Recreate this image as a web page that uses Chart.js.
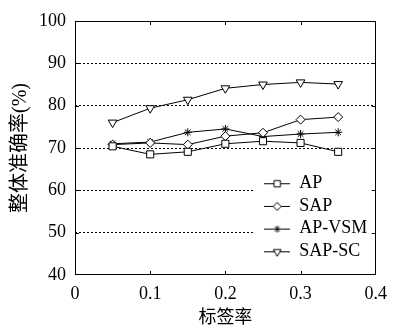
<!DOCTYPE html>
<html>
<head>
<meta charset="utf-8">
<script src="https://cdn.jsdelivr.net/npm/chart.js@4.4.0/dist/chart.umd.min.js"></script>
<style>
  html, body { margin: 0; padding: 0; background: #fff; }
</style>
</head>
<body>
<canvas id="c" width="395" height="329"></canvas>
<script>
// 标签率 (x) and accuracy values
const RATES = [0.05, 0.1, 0.15, 0.2, 0.25, 0.3, 0.35];
const AP = [70.4, 68.5, 69.1, 71.0, 71.6, 71.2, 69.1];
const SAP = [70.8, 71.2, 70.8, 72.8, 73.6, 76.7, 77.3];
const AP_VSM = [71.0, 71.4, 73.7, 74.5, 72.7, 73.3, 73.7];
const SAP_SC = [76.0, 79.4, 81.4, 84.1, 85.0, 85.5, 85.1];
const NAMES = ["AP", "SAP", "AP-VSM", "SAP-SC"];
const Y_MIN = 40, Y_MAX = 100, Y_STEP = 10;
const X_MIN = 0, X_MAX = 0.4, X_STEP = 0.1;

const SERIF = "'Liberation Serif', 'DejaVu Serif', 'Noto Sans CJK SC', serif";

const toXY = (vals) => vals.map((v, i) => ({ x: RATES[i], y: v }));

const styles = [
  { pointStyle: "rect", radius: 5, rotation: 0 },
  { pointStyle: "rectRot", radius: 4.5, rotation: 0 },
  { pointStyle: "star", radius: 4, rotation: 0 },
  { pointStyle: "triangle", radius: 5, rotation: 180 },
];

const datasets = [AP, SAP, AP_VSM, SAP_SC].map((vals, i) => ({
  label: NAMES[i],
  data: toXY(vals),
  borderColor: "#000",
  borderWidth: 1,
  backgroundColor: "#fff",
  pointStyle: styles[i].pointStyle,
  pointRadius: styles[i].radius,
  pointRotation: styles[i].rotation,
  pointBorderColor: "#000",
  pointBackgroundColor: "#fff",
  pointBorderWidth: 1,
  tension: 0,
}));

// small line + marker icon for the legend
function legendIcon(i) {
  const cv = document.createElement("canvas");
  cv.width = 26;
  cv.height = 14;
  const c = cv.getContext("2d");
  c.strokeStyle = "#000";
  c.fillStyle = "#fff";
  c.lineWidth = 1;
  c.beginPath();
  c.moveTo(0, 7.5);
  c.lineTo(26, 7.5);
  c.stroke();
  if (Chart.helpers && Chart.helpers.drawPoint) {
    Chart.helpers.drawPoint(c, {
      pointStyle: styles[i].pointStyle,
      radius: styles[i].radius - 0.5,
      rotation: styles[i].rotation,
      borderWidth: 1,
    }, 13, 7.5);
  }
  return cv;
}

// frame, inward ticks, and white box behind the legend
const framePlugin = {
  id: "frame",
  afterLayout(chart) {
    const lg = chart.legend;
    if (!lg) return;
    lg.left = 259.5;
    lg.top = 169.5;
    lg.right = lg.left + lg.width;
    lg.bottom = chart.chartArea.bottom + 20;
    if (!lg._wrapped) {
      const orig = lg.draw;
      lg.draw = function () {
        const ctx = chart.ctx;
        const area = chart.chartArea;
        ctx.save();
        ctx.fillStyle = "#fff";
        ctx.fillRect(255, 165, area.right - 256, 98);
        ctx.restore();
        orig.apply(this, arguments);
      };
      lg._wrapped = true;
    }
  },
  afterDraw(chart) {
    const { ctx, chartArea: a, scales } = chart;
    ctx.save();
    ctx.strokeStyle = "#000";
    ctx.lineWidth = 1;
    ctx.strokeRect(Math.round(a.left) + 0.5, Math.round(a.top) + 0.5,
      Math.round(a.right - a.left) - 1, Math.round(a.bottom - a.top) - 1);
    const tl = 4;
    ctx.beginPath();
    scales.x.ticks.forEach((t) => {
      if (t.value <= X_MIN || t.value >= X_MAX - 1e-9) return;
      const px = Math.round(scales.x.getPixelForValue(t.value)) + 0.5;
      ctx.moveTo(px, a.bottom);
      ctx.lineTo(px, a.bottom - tl);
      ctx.moveTo(px, a.top);
      ctx.lineTo(px, a.top + tl);
    });
    scales.y.ticks.forEach((t) => {
      if (t.value <= Y_MIN || t.value >= Y_MAX) return;
      const py = Math.round(scales.y.getPixelForValue(t.value)) + 0.5;
      ctx.moveTo(a.left, py);
      ctx.lineTo(a.left + tl, py);
      ctx.moveTo(a.right, py);
      ctx.lineTo(a.right - tl, py);
    });
    ctx.stroke();
    ctx.restore();
  },
};

new Chart(document.getElementById("c"), {
  type: "line",
  data: { datasets },
  options: {
    responsive: false,
    animation: false,
    devicePixelRatio: 1,
    layout: { padding: { top: 21, right: 13, left: 0, bottom: 0 } },
    plugins: {
      tooltip: { enabled: false },
      legend: {
        position: "chartArea",
        align: "start",
        labels: {
          usePointStyle: true,
          pointStyleWidth: 26,
          padding: 4.7,
          color: "#000",
          font: { family: SERIF, size: 18 },
          generateLabels: (chart) =>
            chart.data.datasets.map((d, i) => ({
              text: d.label,
              fontColor: "#000",
              pointStyle: legendIcon(i),
              datasetIndex: i,
              hidden: false,
              lineWidth: 0,
              strokeStyle: "#000",
              fillStyle: "#fff",
            })),
        },
      },
    },
    scales: {
      x: {
        type: "linear",
        min: X_MIN,
        max: X_MAX,
        ticks: {
          stepSize: X_STEP,
          color: "#000",
          padding: 8,
          maxRotation: 0,
          font: { family: SERIF, size: 18 },
        },
        grid: { display: false, drawTicks: false },
        border: { display: false },
        title: {
          display: true,
          text: "标签率",
          color: "#000",
          font: { family: SERIF, size: 18 },
          padding: { top: 0, bottom: 0 },
        },
        afterFit: (s) => { s.height = 54; },
      },
      y: {
        min: Y_MIN,
        max: Y_MAX,
        ticks: {
          stepSize: Y_STEP,
          color: "#000",
          padding: 9,
          font: { family: SERIF, size: 18 },
        },
        grid: {
          drawTicks: false,
          lineWidth: 1,
          color: (ctx) =>
            ctx.tick && (ctx.tick.value === Y_MIN || ctx.tick.value === Y_MAX)
              ? "rgba(0,0,0,0)"
              : "#000",
        },
        border: { display: false, dash: [2, 2] },
        title: {
          display: true,
          text: "整体准确率(%)",
          color: "#000",
          font: { family: SERIF, size: 20 },
          padding: { top: 9, bottom: 0 },
        },
        afterFit: (s) => { s.width = 75; },
      },
    },
  },
  plugins: [framePlugin],
});
</script>
</body>
</html>
